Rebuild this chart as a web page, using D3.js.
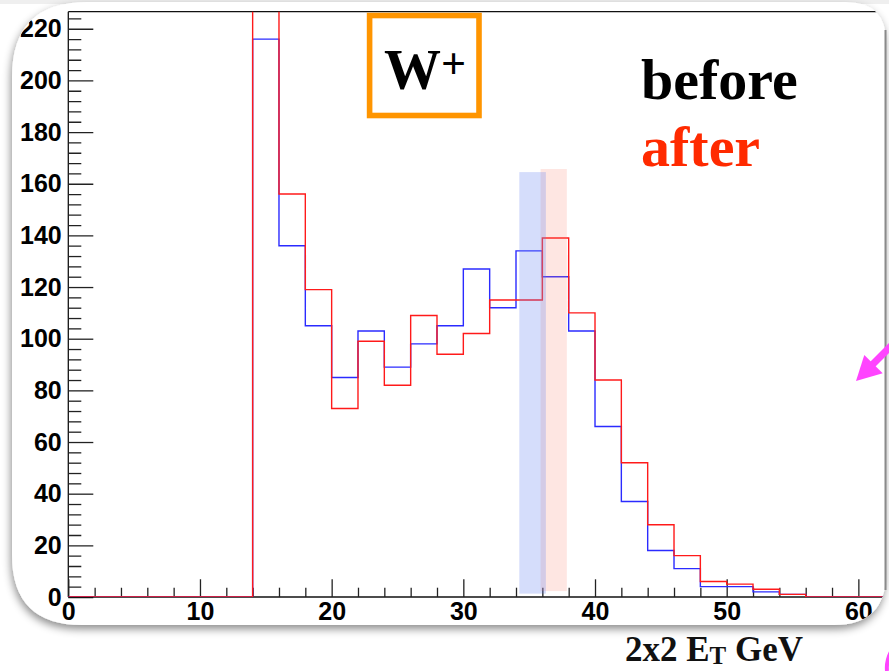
<!DOCTYPE html>
<html>
<head>
<meta charset="utf-8">
<script src="https://cdn.jsdelivr.net/npm/d3@7/dist/d3.min.js"></script>
<style>
  html, body { margin: 0; padding: 0; background: #ffffff; }
  svg { display: block; }
</style>
</head>
<body>
<svg id="chart" width="889" height="671"></svg>
<script>
// ---------------- data ----------------
const binStarts = [0,2,4,6,8,10,12,14,16,18,20,22,24,26,28,30,32,34,36,38,40,42,44,46,48,50,52,54,56,58,60];
const binWidth = 2;
const beforeValues = [0,0,0,0,0,0,0,216,136,105,85,103,89,98,105,127,112,134,124,103,66,37,18,11,4,4,2,1,0,0,0];
const afterValues  = [0,0,0,0,0,0,0,240,156,119,73,99,82,109,94,102,115,115,139,110,84,52,28,16,6,5,3,1,0,0,0];
const yMajorTicks = [0,20,40,60,80,100,120,140,160,180,200,220];
const yMinorTicks = [4,8,12,16,24,28,32,36,44,48,52,56,64,68,72,76,84,88,92,96,104,108,112,116,124,128,132,136,144,148,152,156,164,168,172,176,184,188,192,196,204,208,212,216,224];
const xMajorTicks = [0,10,20,30,40,50,60];
const xMinorTicks = [2,4,6,8,12,14,16,18,22,24,26,28,32,34,36,38,42,44,46,48,52,54,56,58];
const bandNames = ["after", "before"];
const bandX0 = [35.87, 34.25];
const bandX1 = [37.86, 36.27];
const bandTop = [165.7, 164.5];
const bandBottom = [2.3, 1.3];
const legendLabels = ["before", "after"];
const panelLabel = "W";
const panelSup = "+";

// ---------------- layout ----------------
const svg = d3.select("#chart");
const x = d3.scaleLinear().domain([0, 62]).range([68.3, 884.7]);
const y = d3.scaleLinear().domain([0, 226.6]).range([597, 11.7]);

const defs = svg.append("defs");
const f = defs.append("filter").attr("id", "shadow").attr("x", "-10%").attr("y", "-10%").attr("width", "120%").attr("height", "120%");
f.append("feDropShadow").attr("dx", -1).attr("dy", 4).attr("stdDeviation", 4).attr("flood-color", "#000").attr("flood-opacity", 0.45);

// card shape
function cardPath(l, t, r, b, tl, tr, br, bl) {
  return `M${l + tl},${t} L${r - tr},${t} Q${r},${t} ${r},${t + tr} L${r},${b - br} Q${r},${b} ${r - br},${b} L${l + bl},${b} Q${l},${b} ${l},${b - bl} L${l},${t + tl} Q${l},${t} ${l + tl},${t} Z`;
}
const cp = cardPath(12, 2, 886, 625, 75, 40, 52, 70);
svg.append("rect").attr("x", 0).attr("y", 0).attr("width", 889).attr("height", 4).attr("fill", "#efefef");
svg.append("path").attr("d", cp).attr("fill", "#ffffff").attr("filter", "url(#shadow)");
svg.append("line").attr("x1", 885.5).attr("x2", 885.5).attr("y1", 30).attr("y2", 590).attr("stroke", "#8a8a8a").attr("stroke-width", 2);

defs.append("clipPath").attr("id", "cardClip").append("path").attr("d", cp);
defs.append("clipPath").attr("id", "plotClip").append("rect")
  .attr("x", x(0)).attr("y", y(226.6)).attr("width", x(62) - x(0)).attr("height", y(0) - y(226.6));

const card = svg.append("g").attr("clip-path", "url(#cardClip)");

// frame top
card.append("line").attr("x1", x(0)).attr("x2", x(62)).attr("y1", y(226.6)).attr("y2", y(226.6))
  .attr("stroke", "#111").attr("stroke-width", 1.3);

// axes
const axisFont = "'Liberation Sans', Arial, Helvetica, sans-serif";
const gy = card.append("g").attr("transform", `translate(${x(0)},0)`)
  .call(d3.axisLeft(y).tickValues(yMajorTicks).tickSize(-25).tickPadding(6.6).tickFormat(d3.format("d")));
const gyMin = card.append("g").attr("transform", `translate(${x(0)},0)`)
  .call(d3.axisLeft(y).tickValues(yMinorTicks).tickSize(-13).tickFormat(""));
const gx = card.append("g").attr("transform", `translate(0,${y(0)})`)
  .call(d3.axisBottom(x).tickValues(xMajorTicks).tickSize(-17.7).tickPadding(5).tickFormat(d3.format("d")));
const gxMin = card.append("g").attr("transform", `translate(0,${y(0)})`)
  .call(d3.axisBottom(x).tickValues(xMinorTicks).tickSize(-9.3).tickFormat(""));
[gy, gyMin, gx, gxMin].forEach(g => {
  g.selectAll(".domain").attr("stroke", "#111").attr("stroke-width", 1.3);
  g.selectAll(".tick line").attr("stroke", "#222").attr("stroke-width", 1.3);
  g.selectAll("text").attr("font-family", axisFont).attr("font-weight", "bold").attr("font-size", 25).attr("fill", "#000");
});
gyMin.selectAll(".domain").remove();
gxMin.selectAll(".domain").remove();
gy.select(".domain").attr("d", `M0,${y(0)}V${y(226.6)}`);
gx.select(".domain").attr("d", `M${x(0)},0H${x(62)}`);

// histograms
function stepPoints(vals) {
  const pts = binStarts.map((b, i) => [b, vals[i]]);
  pts.push([binStarts[binStarts.length - 1] + binWidth, vals[vals.length - 1]]);
  return pts;
}
const line = d3.line().x(d => x(d[0])).y(d => y(d[1])).curve(d3.curveStepAfter);
const plot = card.append("g").attr("clip-path", "url(#plotClip)");
plot.append("path").attr("d", line(stepPoints(beforeValues))).attr("fill", "none")
  .attr("stroke", "#2b2bff").attr("stroke-width", 1.4);
plot.append("path").attr("d", line(stepPoints(afterValues))).attr("fill", "none")
  .attr("stroke", "#ff1a1a").attr("stroke-width", 1.4);

// highlight bands
const bandFill = { before: "rgb(100,130,240)", after: "rgb(250,130,110)" };
const bandOpacity = { before: 0.27, after: 0.2 };
card.selectAll("rect.band").data(bandNames).enter().append("rect").attr("class", "band")
  .attr("x", (d, i) => x(bandX0[i]))
  .attr("width", (d, i) => x(bandX1[i]) - x(bandX0[i]))
  .attr("y", (d, i) => y(bandTop[i]))
  .attr("height", (d, i) => y(bandBottom[i]) - y(bandTop[i]))
  .attr("fill", d => bandFill[d]).attr("fill-opacity", d => bandOpacity[d]);

// W+ box
const serif = "'Liberation Serif', 'Times New Roman', Times, serif";
card.append("rect").attr("x", 369.6).attr("y", 15.5).attr("width", 109.4).attr("height", 100)
  .attr("fill", "none").attr("stroke", "#ff9500").attr("stroke-width", 5.6);
const wt = card.append("text").attr("x", 384).attr("y", 89.3).attr("font-family", serif)
  .attr("font-weight", "bold").attr("font-size", 57).attr("fill", "#000");
wt.append("tspan").text(panelLabel);
wt.append("tspan").attr("font-size", 44).attr("dy", -11).attr("dx", 0).text(panelSup);

// legend text
const legendColor = ["#000000", "#ff2a00"];
const legendY = [99.3, 165.7];
card.selectAll("text.legend").data(legendLabels).enter().append("text").attr("class", "legend")
  .attr("x", 641).attr("y", (d, i) => legendY[i]).attr("font-family", serif).attr("font-weight", "bold")
  .attr("font-size", 58).attr("fill", (d, i) => legendColor[i]).text(d => d);

// x-axis title (outside card)
const xt = svg.append("text").attr("x", 625).attr("y", 661).attr("font-family", serif)
  .attr("font-weight", "bold").attr("font-size", 35).attr("fill", "#111");
xt.append("tspan").text("2x2 E");
xt.append("tspan").attr("font-size", 25).attr("dy", 3).text("T");
xt.append("tspan").attr("dy", -3).text(" GeV");

// magenta arrows (annotation)
svg.append("line").attr("x1", 872).attr("y1", 365).attr("x2", 895).attr("y2", 342)
  .attr("stroke", "#ff44ff").attr("stroke-width", 7);
svg.append("path").attr("d", "M856,381 L864.3,355 L882.7,373.3 Z").attr("fill", "#ff44ff");
svg.append("path").attr("d", "M892,650 Q886,660 887,671").attr("fill", "none").attr("stroke", "#ff44ff").attr("stroke-width", 4);
</script>
</body>
</html>
